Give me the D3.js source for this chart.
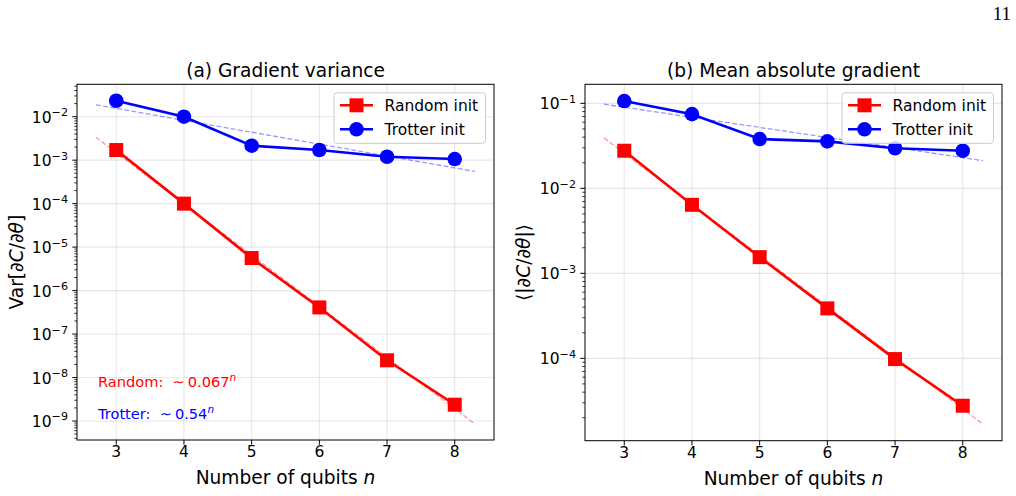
<!DOCTYPE html>
<html><head><meta charset="utf-8">
<script src="https://cdn.jsdelivr.net/npm/d3@7"></script>
<style>
body{margin:0;background:#fff;}
</style></head>
<body><svg id="c" width="1016" height="496" font-family="DejaVu Sans, sans-serif"></svg>
<script>
// ---- data ----
const qubits = [3, 4, 5, 6, 7, 8];
const varRandom  = [1.71e-3, 1.0e-4, 5.6e-6, 4.1e-7, 2.49e-8, 2.37e-9];
const varTrotter = [2.33e-2, 1.0e-2, 2.15e-3, 1.71e-3, 1.2e-3, 1.06e-3];
const absRandom  = [2.77e-2, 6.4e-3, 1.55e-3, 3.87e-4, 9.8e-5, 2.77e-5];
const absTrotter = [1.064e-1, 7.46e-2, 3.8e-2, 3.57e-2, 2.96e-2, 2.77e-2];
const fitRange = [2.7, 8.3];
const xTicks = [3, 4, 5, 6, 7, 8];
const leftYTicks = [-9, -8, -7, -6, -5, -4, -3, -2];
const rightYTicks = [-4, -3, -2, -1];
const seriesNames = ["Random init", "Trotter init"];
const annotations = ["Random:", "0.067", "Trotter:", "0.54"];

const svg = d3.select("#c");
const RED = "#ff0000", BLUE = "#0000ff";
const TICK_FS = 15.5, LABEL_FS = 18.6, LEG_FS = 15.5;

function logFit(xs, ys) {
  const ly = ys.map(v => Math.log10(v));
  const mx = d3.mean(xs), my = d3.mean(ly);
  let num = 0, den = 0;
  xs.forEach((x, i) => { num += (x - mx) * (ly[i] - my); den += (x - mx) ** 2; });
  const b = num / den, a = my - b * mx;
  return x => Math.pow(10, a + b * x);
}

function supText(sel, base, exp, size) {
  sel.append("tspan").text(base);
  sel.append("tspan").attr("dy", -size * 0.42).attr("font-size", size * 0.72).text(exp);
}

function panel(opt) {
  const {x0, x1, y0, y1, yDom, yTicks, dataR, dataT, title, ylabel} = opt;
  const g = svg.append("g");
  const x = d3.scaleLinear().domain([2.42, 8.58]).range([x0, x1]);
  const y = d3.scaleLog().domain(yDom).range([y1, y0]);

  // grid
  xTicks.forEach(t => g.append("line").attr("x1", x(t)).attr("x2", x(t)).attr("y1", y0).attr("y2", y1)
    .attr("stroke", "#b0b0b0").attr("stroke-opacity", 0.3).attr("stroke-width", 1.1));
  yTicks.forEach(t => g.append("line").attr("x1", x0).attr("x2", x1).attr("y1", y(Math.pow(10, t))).attr("y2", y(Math.pow(10, t)))
    .attr("stroke", "#b0b0b0").attr("stroke-opacity", 0.3).attr("stroke-width", 1.1));

  // fits
  const fits = [[dataR, RED], [dataT, BLUE]];
  fits.forEach(([d, c]) => {
    const f = logFit(qubits, d);
    g.append("line").attr("x1", x(fitRange[0])).attr("x2", x(fitRange[1]))
      .attr("y1", y(f(fitRange[0]))).attr("y2", y(f(fitRange[1])))
      .attr("stroke", c).attr("stroke-opacity", 0.4).attr("stroke-width", 1.3).attr("stroke-dasharray", "5,2.2");
  });

  // lines + markers
  const line = d3.line().x((d, i) => x(qubits[i])).y(d => y(d));
  g.append("path").datum(dataR).attr("d", line).attr("fill", "none").attr("stroke", RED).attr("stroke-width", 2.6);
  g.selectAll(null).data(dataR).enter().append("rect")
    .attr("x", (d, i) => x(qubits[i]) - 7).attr("y", d => y(d) - 7).attr("width", 14).attr("height", 14).attr("fill", RED);
  g.append("path").datum(dataT).attr("d", line).attr("fill", "none").attr("stroke", BLUE).attr("stroke-width", 2.6);
  g.selectAll(null).data(dataT).enter().append("circle")
    .attr("cx", (d, i) => x(qubits[i])).attr("cy", d => y(d)).attr("r", 7.3).attr("fill", BLUE);

  // spines
  g.append("rect").attr("x", x0).attr("y", y0).attr("width", x1 - x0).attr("height", y1 - y0)
    .attr("fill", "none").attr("stroke", "#000").attr("stroke-width", 1);

  // x ticks
  xTicks.forEach(t => {
    g.append("line").attr("x1", x(t)).attr("x2", x(t)).attr("y1", y1).attr("y2", y1 + 4.7).attr("stroke", "#000");
    g.append("text").attr("x", x(t)).attr("y", y1 + 17).attr("text-anchor", "middle").attr("font-size", TICK_FS).text(t);
  });
  // y ticks major + minor
  const lo = Math.floor(Math.log10(yDom[0])), hi = Math.ceil(Math.log10(yDom[1]));
  for (let e = lo; e <= hi; e++) {
    for (let m = 2; m <= 9; m++) {
      const v = m * Math.pow(10, e);
      if (v < yDom[0] || v > yDom[1]) continue;
      g.append("line").attr("x1", x0 - 2.7).attr("x2", x0).attr("y1", y(v)).attr("y2", y(v)).attr("stroke", "#000").attr("stroke-width", 0.8);
    }
  }
  yTicks.forEach(t => {
    const yy = y(Math.pow(10, t));
    g.append("line").attr("x1", x0 - 4.7).attr("x2", x0).attr("y1", yy).attr("y2", yy).attr("stroke", "#000");
    const tx = g.append("text").attr("x", x0 - 9).attr("y", yy + 6).attr("text-anchor", "end").attr("font-size", TICK_FS);
    supText(tx, "10", "\u2212" + Math.abs(t), TICK_FS);
  });

  // title
  g.append("text").attr("x", (x0 + x1) / 2).attr("y", y0 - 7.5).attr("text-anchor", "middle").attr("font-size", LABEL_FS).text(title);
  // x label
  const xl = g.append("text").attr("x", (x0 + x1) / 2).attr("y", y1 + 44).attr("text-anchor", "middle").attr("font-size", LABEL_FS);
  xl.append("tspan").text("Number of qubits ");
  xl.append("tspan").attr("font-style", "italic").text("n");
  // y label
  const yl = g.append("text").attr("transform", `translate(${opt.ylx},${(y0 + y1) / 2}) rotate(-90)`)
    .attr("text-anchor", "middle").attr("font-size", LABEL_FS);
  ylabel.forEach(([s, it]) => yl.append("tspan").attr("font-style", it ? "italic" : "normal").text(s));

  // legend
  const lx = x1 - 160, ly = y0 + 8.5;
  g.append("rect").attr("x", lx).attr("y", ly).attr("width", 151.5).attr("height", 50.5).attr("rx", 3)
    .attr("fill", "#fff").attr("fill-opacity", 0.8).attr("stroke", "#cccccc").attr("stroke-width", 1);
  [[RED, "sq"], [BLUE, "ci"]].forEach(([c, m], i) => {
    const cy = ly + 12.5 + i * 24;
    g.append("line").attr("x1", lx + 6).attr("x2", lx + 39).attr("y1", cy).attr("y2", cy).attr("stroke", c).attr("stroke-width", 2.6);
    if (m === "sq") g.append("rect").attr("x", lx + 22.5 - 7).attr("y", cy - 7).attr("width", 14).attr("height", 14).attr("fill", c);
    else g.append("circle").attr("cx", lx + 22.5).attr("cy", cy).attr("r", 7.3).attr("fill", c);
    g.append("text").attr("x", lx + 50.5).attr("y", cy + 5.5).attr("font-size", LEG_FS).text(seriesNames[i]);
  });
  return {g, x, y};
}

panel({x0: 77, x1: 494, y0: 84.3, y1: 440, yDom: [Math.pow(10, -9.437), Math.pow(10, -1.255)],
  yTicks: leftYTicks, dataR: varRandom, dataT: varTrotter, title: "(a) Gradient variance", ylx: 23,
  ylabel: [["Var[\u2202", false], ["C", true], ["/\u2202", false], ["\u03b8", true], ["]", false]]});
panel({x0: 585, x1: 1002, y0: 84.3, y1: 440.7, yDom: [Math.pow(10, -4.969), Math.pow(10, -0.776)],
  yTicks: rightYTicks, dataR: absRandom, dataT: absTrotter, title: "(b) Mean absolute gradient", ylx: 530,
  ylabel: [["\u27e8|\u2202", false], ["C", true], ["/\u2202", false], ["\u03b8", true], ["|\u27e9", false]]});

// annotations
[[annotations[0], annotations[1], RED, 387], [annotations[2], annotations[3], BLUE, 419]].forEach(([a, b, c, yy]) => {
  const t = svg.append("text").attr("x", 98).attr("y", yy).attr("font-size", 14.6).attr("fill", c);
  t.append("tspan").text(a + "\u00a0\u00a0\u223c\u2009");
  t.append("tspan").text(b);
  t.append("tspan").attr("dy", -6).attr("font-size", 10.5).attr("font-style", "italic").text("n");
});

// page number
svg.append("text").attr("x", 1011).attr("y", 20).attr("text-anchor", "end")
  .attr("font-family", "Liberation Serif, serif").attr("font-size", 19).text("11");
</script></body></html>
